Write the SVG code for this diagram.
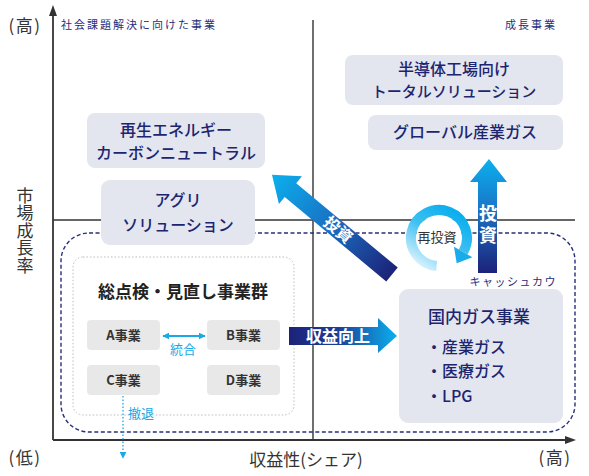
<svg xmlns="http://www.w3.org/2000/svg" width="589" height="476" viewBox="0 0 589 476">
<style>
text{font-family:"Noto Sans CJK JP","Noto Sans",sans-serif}
.axis{stroke:#333;stroke-width:1.8;fill:none}
.mid{stroke:#333;stroke-width:1.4;fill:none}
.box{fill:#E3E6EE}
.gbox{fill:#E8E8E9}
.bt{font-size:16px;font-weight:500;fill:#1D2570;text-anchor:middle}
.gt{font-size:13px;font-weight:bold;fill:#333;text-anchor:middle}
.lab{font-size:17px;fill:#333;text-anchor:middle}
.cap{font-size:11px;fill:#27307A;letter-spacing:2px}
.cy{font-size:13px;fill:#18A9E6}
.wt{fill:#fff;font-weight:bold;text-anchor:middle}
.dm{font-weight:500;fill:#1D2570}
</style>
<defs>
<linearGradient id="gUp" x1="0" y1="0" x2="0" y2="1">
<stop offset="0" stop-color="#0BB0EE"/><stop offset="0.45" stop-color="#1A74C6"/><stop offset="1" stop-color="#1C2278"/>
</linearGradient>
<linearGradient id="gDiag" x1="0" y1="0" x2="1" y2="0">
<stop offset="0" stop-color="#1C2278"/><stop offset="0.5" stop-color="#1A6FC2"/><stop offset="1" stop-color="#0BB0EE"/>
</linearGradient>
<linearGradient id="gRight" x1="0" y1="0" x2="1" y2="0">
<stop offset="0" stop-color="#1C2278"/><stop offset="0.45" stop-color="#1C3E97"/><stop offset="1" stop-color="#0BB0EE"/>
</linearGradient>
<linearGradient id="gRing" gradientUnits="userSpaceOnUse" x1="420" y1="268" x2="456" y2="212">
<stop offset="0" stop-color="#E0F5FD"/><stop offset="0.55" stop-color="#3EC0F2"/><stop offset="1" stop-color="#0BAEEE"/>
</linearGradient>
<marker id="cyh" viewBox="0 0 10 10" refX="9" refY="5" markerWidth="7" markerHeight="7" orient="auto-start-reverse" markerUnits="userSpaceOnUse">
<path d="M0,0 L10,5 L0,10 z" fill="#18A9E6"/>
</marker>
</defs>

<g id="axes">
<line class="axis" x1="53" y1="14" x2="53" y2="440"/>
<line class="axis" x1="53" y1="440" x2="566" y2="440"/>
<path d="M53,5 L49,16 L57,16 z" fill="#333"/>
<path d="M576,440 L565,436 L565,444 z" fill="#333"/>
<line class="mid" x1="313" y1="20" x2="313" y2="440"/>
<line class="mid" x1="53" y1="220" x2="575" y2="220"/>
</g>

<g id="labels">
<text class="lab" x="25" y="32" style="letter-spacing:1.5px">(高)</text>
<text class="lab" x="25" y="464" style="letter-spacing:1.5px">(低)</text>
<text class="lab" x="555" y="464" style="letter-spacing:1.5px">(高)</text>
<text class="lab" x="306" y="466">収益性(シェア)</text>
<text x="25" y="187" font-size="17" fill="#333" style="writing-mode:vertical-rl;letter-spacing:0.5px">市場成長率</text>
<text class="cap" x="61" y="29">社会課題解決に向けた事業</text>
<text class="cap" x="557" y="29" text-anchor="end">成長事業</text>
</g>

<g id="cash-cow-area">
<rect x="61" y="233" width="514" height="199" rx="28" fill="none" stroke="#27307A" stroke-width="1.4" stroke-dasharray="4 2.5"/>
<text class="cap" x="557" y="286" text-anchor="end" style="letter-spacing:1.5px">キャッシュカウ</text>
</g>

<g id="review-group">
<rect x="73" y="257" width="221" height="158" rx="10" fill="none" stroke="#BDBDBD" stroke-width="1" stroke-dasharray="1.5 2"/>
<text x="183" y="298" font-size="17" font-weight="bold" fill="#222" text-anchor="middle">総点検・見直し事業群</text>
</g>

<g id="node-a"><rect class="gbox" x="87" y="320" width="73" height="30" rx="4"/><text class="gt" x="123.5" y="340">A事業</text></g>
<g id="node-b"><rect class="gbox" x="207" y="320" width="73" height="30" rx="4"/><text class="gt" x="243.5" y="340">B事業</text></g>
<g id="node-c"><rect class="gbox" x="87" y="365" width="73" height="30" rx="4"/><text class="gt" x="123.5" y="385">C事業</text></g>
<g id="node-d"><rect class="gbox" x="207" y="365" width="73" height="30" rx="4"/><text class="gt" x="243.5" y="385">D事業</text></g>

<g id="node-renewable">
<rect class="box" x="87" y="113" width="178" height="55" rx="8"/>
<text class="bt" x="176" y="136">再生エネルギー<tspan x="176" y="159">カーボンニュートラル</tspan></text>
</g>
<g id="node-agri">
<rect class="box" x="101" y="180" width="154" height="65" rx="9"/>
<text class="bt" x="178" y="206">アグリ<tspan x="178" y="231">ソリューション</tspan></text>
</g>
<g id="node-semicon">
<rect class="box" x="345" y="55" width="218" height="50" rx="8"/>
<text class="bt" x="454" y="75">半導体工場向け<tspan x="454" y="97" style="font-size:15px">トータルソリューション</tspan></text>
</g>
<g id="node-global">
<rect class="box" x="368" y="115" width="195" height="35" rx="8"/>
<text class="bt" x="465" y="138">グローバル産業ガス</text>
</g>
<g id="node-domestic">
<rect class="box" x="399" y="289" width="164" height="134" rx="9"/>
<text class="dm" x="428" y="323" font-size="17">国内ガス事業</text>
<text class="dm" x="426" y="353" font-size="16">・産業ガス</text>
<text class="dm" x="426" y="377" font-size="16">・医療ガス</text>
<text class="dm" x="426" y="402" font-size="16">・LPG</text>
</g>

<g id="connectors">
<line x1="163" y1="336" x2="205" y2="336" stroke="#18A9E6" stroke-width="2" marker-start="url(#cyh)" marker-end="url(#cyh)"/>
<text class="cy" x="183" y="354" text-anchor="middle">統合</text>
<line x1="123" y1="396" x2="123" y2="458" stroke="#18A9E6" stroke-width="1.3" stroke-dasharray="1.5 2" marker-end="url(#cyh)"/>
<text class="cy" x="128" y="418">撤退</text>

<path d="M289,327 L378,327 L378,318 L397,336 L378,353 L378,345 L289,345 z" fill="url(#gRight)"/>
<text class="wt" x="338" y="342" font-size="16">収益向上</text>

<path d="M478,273 L478,182 L470,182 L489,159 L507,182 L497,182 L497,273 z" fill="url(#gUp)"/>
<text x="488" y="204" font-size="18" fill="#fff" font-weight="bold" style="writing-mode:vertical-rl;letter-spacing:4px">投資</text>

<path transform="translate(392,274.5) rotate(-140.3)" d="M0,-9 L132,-9 L132,-18 L156,0 L132,18 L132,9 L0,9 z" fill="url(#gDiag)"/>
<text class="wt" font-size="16" transform="translate(338,230) rotate(39.7)" x="0" y="5.5">投資</text>

<circle cx="439" cy="238" r="23" fill="#fff"/>
<path d="M436.6,265.9 A28,28 0 1 1 463.2,252" fill="none" stroke="url(#gRing)" stroke-width="10"/>
<path d="M472.4,257.3 L456.7,263.3 L454,246.7 z" fill="#19ABEA"/>
<text x="437" y="242" font-size="13" fill="#333" text-anchor="middle">再投資</text>
</g>
</svg>
